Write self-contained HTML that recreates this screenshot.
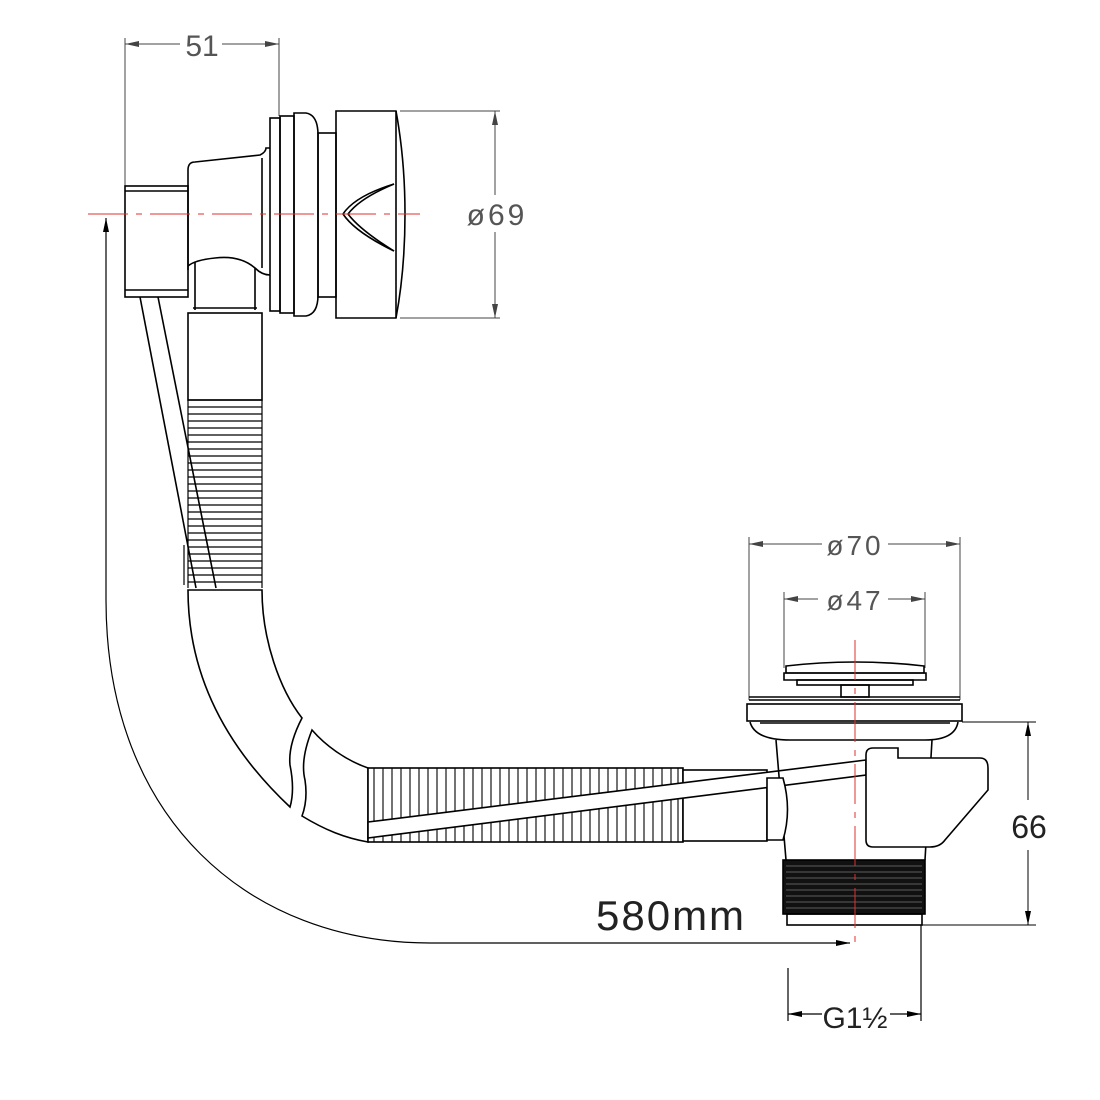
<!DOCTYPE html>
<html><head><meta charset="utf-8"><style>
html,body{margin:0;padding:0;background:#fff;}
svg{display:block;}
text{font-family:"Liberation Sans",sans-serif;}
</style></head><body>
<svg width="1100" height="1100" viewBox="0 0 1100 1100" xmlns="http://www.w3.org/2000/svg">
<defs>
<marker id="a" markerWidth="14" markerHeight="8" refX="14" refY="4" orient="auto-start-reverse" markerUnits="userSpaceOnUse">
<path d="M0,1 L14,4 L0,7 Z" fill="#000"/></marker>
<marker id="g" markerWidth="14" markerHeight="8" refX="14" refY="4" orient="auto-start-reverse" markerUnits="userSpaceOnUse">
<path d="M0,1 L14,4 L0,7 Z" fill="#444"/></marker>
</defs>
<g fill="none" stroke="#000" stroke-width="1.6">
<!-- dim 51 -->
<g stroke="#444" stroke-width="1">
<line x1="125" y1="38" x2="125" y2="186"/>
<line x1="279" y1="38" x2="279" y2="116"/>
<line x1="125" y1="44" x2="180" y2="44" marker-start="url(#g)"/>
<line x1="222" y1="44" x2="279" y2="44" marker-end="url(#g)"/>
<!-- dim 69 -->
<line x1="400" y1="111" x2="500" y2="111"/>
<line x1="400" y1="318" x2="500" y2="318"/>
<line x1="495" y1="111" x2="495" y2="195" marker-start="url(#g)"/>
<line x1="495" y1="232" x2="495" y2="318" marker-end="url(#g)"/>
<!-- dim 70 / 47 -->
<line x1="749" y1="537" x2="749" y2="700"/>
<line x1="960" y1="537" x2="960" y2="700"/>
<line x1="749" y1="544" x2="822" y2="544" marker-start="url(#g)"/>
<line x1="888" y1="544" x2="960" y2="544" marker-end="url(#g)"/>
<line x1="784" y1="592" x2="784" y2="668"/>
<line x1="925" y1="592" x2="925" y2="668"/>
<line x1="784" y1="599" x2="818" y2="599" marker-start="url(#g)"/>
<line x1="888" y1="599" x2="925" y2="599" marker-end="url(#g)"/>
</g>
<!-- dim 66 -->
<line x1="962" y1="722" x2="1036" y2="722" stroke-width="1"/>
<line x1="922" y1="925" x2="1036" y2="925" stroke-width="1"/>
<line x1="1028" y1="722" x2="1028" y2="800" stroke-width="1" marker-start="url(#a)"/>
<line x1="1028" y1="850" x2="1028" y2="925" stroke-width="1" marker-end="url(#a)"/>
<!-- G1 1/2 -->
<line x1="788" y1="968" x2="788" y2="1021" stroke-width="1.2"/>
<line x1="921" y1="925" x2="921" y2="1021" stroke-width="1.2"/>
<line x1="788" y1="1014" x2="822" y2="1014" stroke-width="1.2" marker-start="url(#a)"/>
<line x1="890" y1="1014" x2="921" y2="1014" stroke-width="1.2" marker-end="url(#a)"/>
<!-- 580 arrow -->
<path d="M106,218 L106,600 C106,820 250,943 430,943 L850,943" stroke-width="1.2" marker-start="url(#a)" marker-end="url(#a)"/>

<!-- overflow pipe stub -->
<rect x="125" y="186" width="63" height="111"/>
<line x1="125" y1="191" x2="188" y2="191"/>
<line x1="125" y1="290" x2="188" y2="290"/>
<!-- body -->
<path d="M188,270 L188,170 Q188,162 195,162 L260,155 Q266,152 266,148 L270,148"/>
<path d="M188,266 Q195,260 215,258 Q240,255 255,268 Q262,275 270,275"/>
<line x1="262" y1="158" x2="262" y2="268"/>
<path d="M195,262 L195,310"/><path d="M255,268 L255,310"/>
<!-- flange rings -->
<rect x="270" y="118" width="10" height="193"/>
<rect x="280" y="116" width="14" height="197"/>
<path d="M294,113 L306,113 Q318,115 318,135 L318,295 Q318,314 306,316 L294,316 Z"/>
<rect x="318" y="133" width="18" height="164"/>
<!-- cap -->
<path d="M336,111 L396,111 Q405,160 405,214 Q405,270 396,318 L336,318 Z"/>
<line x1="396" y1="111" x2="396" y2="318"/>
<path d="M394,184 Q355,196 343,214 Q355,232 394,251"/>
<path d="M394,184 Q360,198 348,214 Q360,230 394,251"/>
<!-- vertical pipe down -->
<rect x="188" y="313" width="74" height="87"/>
<line x1="193" y1="308" x2="257" y2="308"/>
<g stroke-width="1.2">
<path d="M188,400 h74 M188,407 h74 M188,414 h74 M188,421 h74 M188,428 h74 M188,435 h74 M188,442 h74 M188,449 h74 M188,456 h74 M188,463 h74 M188,470 h74 M188,477 h74 M188,484 h74 M188,491 h74 M188,498 h74 M188,505 h74 M188,512 h74 M188,519 h74 M188,526 h74 M188,533 h74 M188,540 h74 M188,547 h74 M188,554 h74 M188,561 h74 M188,568 h74 M188,575 h74 M188,582 h74"/>
<path d="M188,400 V588 M262,400 V588 M184,545 V585"/>
</g>
<!-- cables -->
<line x1="140" y1="297" x2="196" y2="588"/>
<line x1="158" y1="297" x2="216" y2="588"/>
<!-- elbow -->
<path d="M188,590 L262,590 C262,640 280,690 302,718 Q288,745 290,765 Q295,790 290,807 C240,760 188,690 188,590 Z" fill="#fff"/>
<path d="M312,730 Q300,760 305,780 Q308,800 302,816 C325,830 345,838 368,842 L368,768 C345,760 325,745 312,730 Z"/>
<!-- horizontal corrugated -->
<rect x="368" y="768" width="315" height="74" fill="#fff"/>
<path d="M374,768 V842 M383,768 V842 M392,768 V842 M401,768 V842 M410,768 V842 M419,768 V842 M428,768 V842 M437,768 V842 M446,768 V842 M455,768 V842 M464,768 V842 M473,768 V842 M482,768 V842 M491,768 V842 M500,768 V842 M509,768 V842 M518,768 V842 M527,768 V842 M536,768 V842 M545,768 V842 M554,768 V842 M563,768 V842 M572,768 V842 M581,768 V842 M590,768 V842 M599,768 V842 M608,768 V842 M617,768 V842 M626,768 V842 M635,768 V842 M644,768 V842 M653,768 V842 M662,768 V842 M671,768 V842 M678,768 V842" stroke-width="1.1"/>
<rect x="683" y="770" width="84" height="71" fill="#fff"/>
<path d="M368,822 L866,760 L866,775 L368,838 Z" fill="#fff"/>
<!-- waste body -->
<path d="M776,740 L786,860 M932,740 L925,860"/>
<path d="M767,778 L767,840 L783,840 Q792,810 783,778 Z" fill="#fff"/>
<path d="M750,722 Q755,740 790,740 L925,740 Q955,740 958,722"/>
<rect x="747" y="704" width="215" height="17"/>
<line x1="749" y1="697" x2="960" y2="697"/>
<line x1="749" y1="700" x2="960" y2="700"/>
<line x1="760" y1="723" x2="950" y2="723"/>
<path d="M784,673 L926,673 L926,680 L784,680 Z"/>
<path d="M786,666 Q855,658 924,666 L924,673 L786,673 Z"/>
<rect x="797" y="680" width="116" height="5"/>
<rect x="841" y="685" width="28" height="12"/>
<!-- overflow box -->
<path d="M873,748 L898,748 L898,758 L980,758 Q988,758 988,768 L988,790 L945,840 Q940,847 930,847 L873,847 Q866,847 866,840 L866,755 Q866,748 873,748 Z" fill="#fff"/>
<!-- thread -->
<rect x="783" y="860" width="142" height="54" fill="#111"/>
<g stroke="#777" stroke-width="0.8">
<path d="M786,866 H922 M786,872 H922 M786,878 H922 M786,884 H922 M786,890 H922 M786,896 H922 M786,902 H922 M786,908 H922"/>
</g>
<rect x="787" y="914" width="135" height="11"/>
</g>
<!-- centre lines -->
<g stroke="#e03030" stroke-width="1">
<line x1="88" y1="214" x2="420" y2="214" stroke-dasharray="40,8,6,8"/>
<line x1="855" y1="640" x2="855" y2="948" stroke-dasharray="40,8,6,8"/>
</g>
<!-- text -->
<text x="202" y="56" font-size="30" fill="#555" text-anchor="middle">51</text>
<text x="497" y="225" font-size="30" fill="#555" text-anchor="middle" letter-spacing="3">ø69</text>
<text x="855" y="555" font-size="28" fill="#555" text-anchor="middle" letter-spacing="3">ø70</text>
<text x="855" y="610" font-size="28" fill="#555" text-anchor="middle" letter-spacing="3">ø47</text>
<text x="1029" y="838" font-size="32" fill="#222" text-anchor="middle">66</text>
<text x="596" y="930" font-size="42" fill="#222" letter-spacing="2">580mm</text>
<text x="855" y="1028" font-size="30" fill="#222" text-anchor="middle">G1½</text>
</svg>
</body></html>
